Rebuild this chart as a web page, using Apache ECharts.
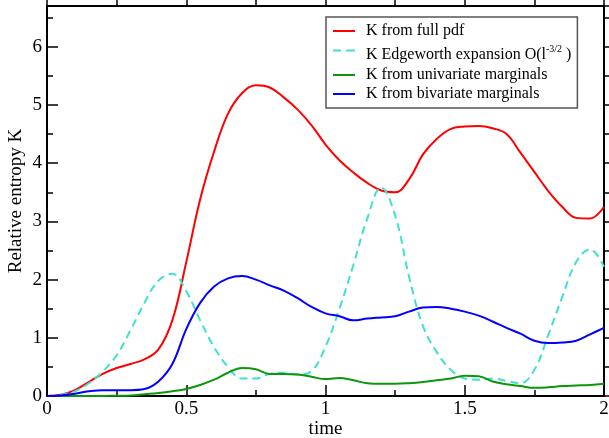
<!DOCTYPE html>
<html>
<head>
<meta charset="utf-8">
<script src="https://cdn.jsdelivr.net/npm/echarts@6/dist/echarts.min.js"></script>
<style>
  html, body { margin: 0; padding: 0; background: #fff; }
  #chart { width: 609px; height: 438px; }
</style>
</head>
<body>
<div id="chart"></div>
<script>
// sample times (step 0.05)
const times = [0, 0.05, 0.1, 0.15, 0.2, 0.25, 0.3, 0.35, 0.4, 0.45, 0.5, 0.55, 0.6, 0.65, 0.7, 0.75, 0.8, 0.85, 0.9, 0.95,
  1.0, 1.05, 1.1, 1.15, 1.2, 1.25, 1.3, 1.35, 1.4, 1.45, 1.5, 1.55, 1.6, 1.65, 1.7, 1.75, 1.8, 1.85, 1.9, 1.95, 2.0];

const fullPdf = [0, 0.02, 0.1, 0.24, 0.38, 0.48, 0.55, 0.63, 0.8, 1.3, 2.3, 3.38, 4.2, 4.85, 5.2, 5.34, 5.3, 5.13, 4.92, 4.65,
  4.32, 4.05, 3.84, 3.66, 3.53, 3.5, 3.72, 4.15, 4.42, 4.59, 4.63, 4.64, 4.6, 4.5, 4.18, 3.85, 3.52, 3.25, 3.06, 3.05, 3.25];

const edgeworth = [0, 0.02, 0.08, 0.22, 0.42, 0.7, 1.13, 1.6, 1.98, 2.1, 1.8, 1.3, 0.84, 0.5, 0.3, 0.3, 0.38, 0.4, 0.37, 0.43,
  0.85, 1.5, 2.25, 3.05, 3.58, 3.1, 2.05, 1.2, 0.75, 0.45, 0.3, 0.28, 0.3, 0.26, 0.22, 0.45, 1.05, 1.7, 2.3, 2.52, 2.22];

const univariate = [0, 0, 0, 0, 0, 0.005, 0.01, 0.03, 0.05, 0.08, 0.12, 0.19, 0.28, 0.4, 0.48, 0.46, 0.38, 0.38, 0.37, 0.33,
  0.29, 0.31, 0.27, 0.22, 0.21, 0.21, 0.22, 0.24, 0.27, 0.3, 0.35, 0.34, 0.25, 0.2, 0.17, 0.14, 0.15, 0.17, 0.18, 0.19, 0.21];

const bivariate = [0, 0.01, 0.04, 0.08, 0.1, 0.1, 0.1, 0.12, 0.25, 0.55, 1.15, 1.6, 1.88, 2.02, 2.06, 2.0, 1.9, 1.81, 1.68, 1.53,
  1.42, 1.37, 1.3, 1.33, 1.35, 1.37, 1.45, 1.52, 1.53, 1.5, 1.45, 1.38, 1.28, 1.17, 1.07, 0.95, 0.91, 0.92, 0.95, 1.06, 1.17];

const seriesNames = [
  "K from full pdf",
  "K Edgeworth expansion O(l^-3/2 )",
  "K from univariate marginals",
  "K from bivariate marginals"
];

const font = "Liberation Serif";
const solidIcon = "path://M0,0h22v2h-22z";
const dashIcon = "path://M0,0h8v2h-8z M13,0h9v2h-9z";

function pairs(vals) {
  return times.map((t, i) => [t, vals[i]]);
}

function lineSeries(name, vals, color, dashed) {
  return {
    name: name,
    type: "line",
    data: pairs(vals),
    smooth: 0.4,
    symbol: "none",
    animation: false,
    lineStyle: { color: color, width: 2, type: dashed ? [8, 5] : "solid" },
    itemStyle: { color: color }
  };
}

// axis settings shared by the bottom/top and left/right axes
// (mirror axes sit off zero and need the tick side flipped to land inside)
function frameAxis(primary, extra) {
  return Object.assign({
    type: "value",
    nameMoveOverlap: false,
    axisLine: { show: true, onZero: primary, lineStyle: { color: "#000", width: 2 } },
    axisTick: { show: true, inside: primary, length: 11, lineStyle: { color: "#000", width: 1.5 } },
    minorTick: { show: true, splitNumber: 2, length: 6, lineStyle: { color: "#000", width: 1.5 } },
    splitLine: { show: false },
    axisLabel: { color: "#000", fontFamily: font, fontSize: 19 }
  }, extra);
}

const chart = echarts.init(document.getElementById("chart"), null, { renderer: "canvas" });

chart.setOption({
  backgroundColor: "#fff",
  animation: false,
  grid: { left: 47, right: 5, top: 6, bottom: 42, containLabel: false, outerBoundsMode: "none" },
  xAxis: [
    frameAxis(true, {
      min: 0, max: 2, interval: 0.5,
      name: "time", nameLocation: "middle", nameGap: 24,
      nameTextStyle: { color: "#000", fontFamily: font, fontSize: 19 },
      axisLabel: { color: "#000", fontFamily: font, fontSize: 19, margin: 4 }
    }),
    frameAxis(false, { min: 0, max: 2, interval: 0.5, position: "top", axisLabel: { show: false } })
  ],
  yAxis: [
    frameAxis(true, {
      min: 0, max: 6.7, interval: 1,
      name: "Relative entropy K", nameLocation: "middle", nameGap: 21,
      nameTextStyle: { color: "#000", fontFamily: font, fontSize: 19 },
      axisLabel: {
        color: "#000", fontFamily: font, fontSize: 19, margin: 5,
        formatter: v => Number.isInteger(v) ? String(v) : ""
      }
    }),
    frameAxis(false, { min: 0, max: 6.7, interval: 1, position: "right", axisLabel: { show: false } })
  ],
  legend: {
    orient: "vertical",
    left: 326,
    top: 17,
    padding: [6, 6, 6, 7],
    itemGap: 3,
    itemWidth: 22,
    itemHeight: 2,
    backgroundColor: "#fff",
    borderColor: "#555",
    borderWidth: 1.5,
    borderRadius: 0,
    data: seriesNames.map((n, i) => ({ name: n, icon: i === 1 ? dashIcon : solidIcon })),
    textStyle: {
      color: "#000", fontFamily: font, fontSize: 16, lineHeight: 16, padding: [0, 0, 0, 6],
      rich: {
        sup: { fontFamily: font, fontSize: 10, lineHeight: 10, padding: [2, 0, 10, 0], verticalAlign: "top", color: "#000" },
        base: { fontFamily: font, fontSize: 16, lineHeight: 17, padding: [5, 0, 0, 0], verticalAlign: "top", color: "#000" }
      }
    },
    formatter: function (name) {
      if (name.indexOf("^") >= 0) {
        return "{base|K Edgeworth expansion O(l}{sup|-3/2}{base| )}";
      }
      return name;
    }
  },
  series: [
    lineSeries(seriesNames[0], fullPdf, "#ff0000", false),
    lineSeries(seriesNames[1], edgeworth, "#40e0d0", true),
    lineSeries(seriesNames[2], univariate, "#0c960c", false),
    lineSeries(seriesNames[3], bivariate, "#0000ff", false)
  ]
});
</script>
</body>
</html>
